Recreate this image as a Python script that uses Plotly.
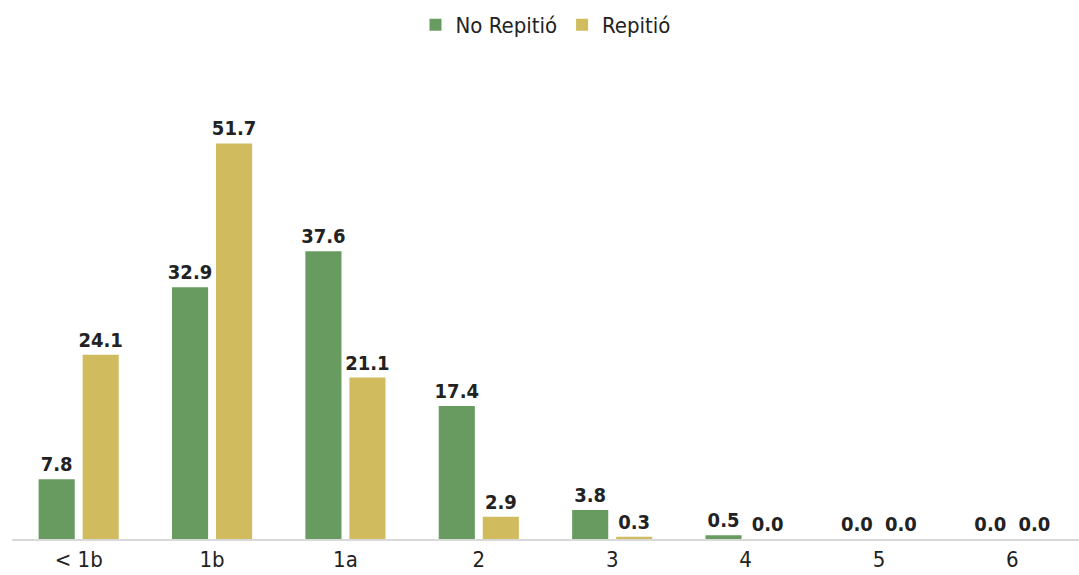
import plotly.graph_objects as go

categories = ["< 1b", "1b", "1a", "2", "3", "4", "5", "6"]
no_repitio = [7.8, 32.9, 37.6, 17.4, 3.8, 0.5, 0.0, 0.0]
repitio = [24.1, 51.7, 21.1, 2.9, 0.3, 0.0, 0.0, 0.0]

GREEN = "#689b60"
YELLOW = "#d0bc5f"
FONT = "DejaVu Sans Condensed, Liberation Sans Narrow, Arial Narrow, sans-serif"

fig = go.Figure()
for name, vals, color in [("No Repitió", no_repitio, GREEN), ("Repitió", repitio, YELLOW)]:
    fig.add_trace(go.Bar(
        name=name,
        x=categories,
        y=vals,
        marker=dict(color=color, line=dict(width=0)),
        text=[f"{v:.1f}" for v in vals],
        textposition="outside",
        constraintext="none",
        textfont=dict(family=FONT, size=20, color="#222222", weight="bold"),
        cliponaxis=False,
    ))

fig.update_layout(
    width=1079,
    height=575,
    margin=dict(l=12, r=0, t=80, b=36, autoexpand=False),
    paper_bgcolor="white",
    plot_bgcolor="white",
    barmode="group",
    bargap=0.34,
    bargroupgap=0.18,
    font=dict(family=FONT, size=21, color="#222222"),
    legend=dict(
        orientation="h",
        x=0.5,
        xanchor="center",
        y=1.12,
        yanchor="middle",
        font=dict(family=FONT, size=22, color="#222222"),
        itemwidth=30,
        traceorder="normal",
    ),
    xaxis=dict(
        showline=True,
        linecolor="#d9d9d9",
        linewidth=2,
        ticks="",
        showgrid=False,
        tickfont=dict(family=FONT, size=22, color="#222222"),
    ),
    yaxis=dict(
        range=[0, 60],
        visible=False,
        showgrid=False,
    ),
)

fig.write_html("out.html")
